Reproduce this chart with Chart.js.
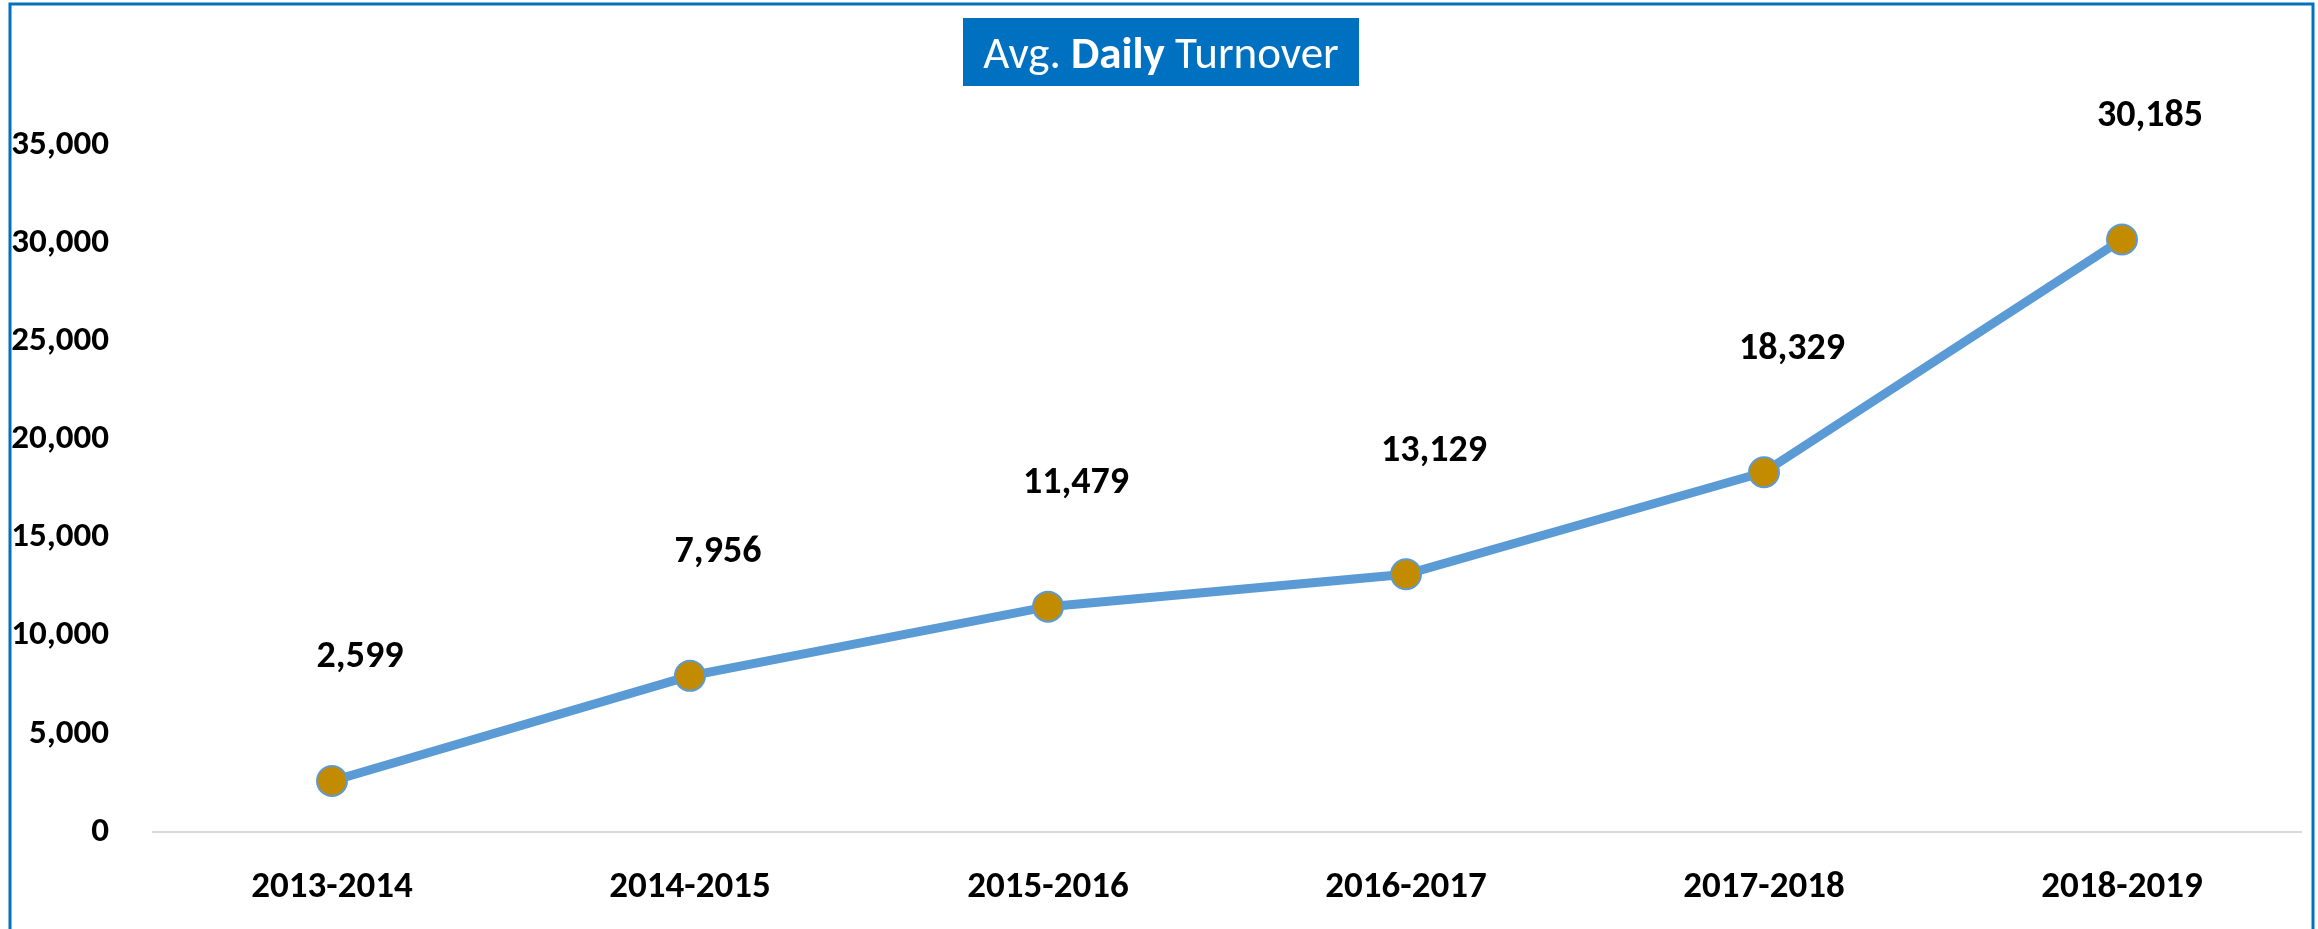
<!DOCTYPE html>
<html>
<head>
<meta charset="utf-8">
<script src="https://cdn.jsdelivr.net/npm/chart.js@4.4.0/dist/chart.umd.min.js"></script>
<style>
    html, body { margin: 0; padding: 0; background: #ffffff; }
    #wrap { width: 2318px; height: 929px; position: relative; }
</style>
</head>
<body>
<div id="wrap"><canvas id="turnoverChart"></canvas></div>
<script>
// Chart data
const years = ["2013-2014", "2014-2015", "2015-2016", "2016-2017", "2017-2018", "2018-2019"];
const avgDailyTurnover = [2599, 7956, 11479, 13129, 18329, 30185];
const yTicks = [0, 5000, 10000, 15000, 20000, 25000, 30000, 35000];

const FONT = "Carlito, Lato, 'Open Sans', sans-serif";

// Frame round the whole picture
const framePlugin = {
    id: "frame",
    beforeDraw(chart) {
        const c = chart.ctx;
        c.save();
        c.fillStyle = "#ffffff";
        c.fillRect(0, 0, chart.width, chart.height);
        c.strokeStyle = "#0070C0";
        c.lineWidth = 3;
        c.strokeRect(10, 4, 2303, 940);
        c.restore();
    },
};

// Title box with a bold word in the middle
const titleBoxPlugin = {
    id: "titleBox",
    afterDraw(chart) {
        const c = chart.ctx;
        const parts = [
            { text: "Avg. ", bold: false },
            { text: "Daily", bold: true },
            { text: " Turnover", bold: false },
        ];
        const size = 45;
        c.save();
        let total = 0;
        parts.forEach((p) => {
            c.font = (p.bold ? "bold " : "") + size + "px " + FONT;
            p.w = c.measureText(p.text).width;
            total += p.w;
        });
        const cx = 1161;
        const boxW = Math.max(396, total + 20);
        c.fillStyle = "#0070C0";
        c.fillRect(cx - boxW / 2, 18, boxW, 68);
        c.fillStyle = "#ffffff";
        c.textBaseline = "alphabetic";
        c.textAlign = "left";
        let x = cx - total / 2;
        parts.forEach((p) => {
            c.font = (p.bold ? "bold " : "") + size + "px " + FONT;
            c.fillText(p.text, x, 68);
            x += p.w;
        });
        c.restore();
    },
};

// Value labels above each point
const valueLabelPlugin = {
    id: "valueLabels",
    afterDatasetsDraw(chart) {
        const c = chart.ctx;
        const meta = chart.getDatasetMeta(0);
        c.save();
        c.font = "bold 38px " + FONT;
        c.fillStyle = "#000000";
        c.textAlign = "center";
        c.textBaseline = "middle";
        meta.data.forEach((pt, i) => {
            const v = chart.data.datasets[0].data[i];
            c.fillText(v.toLocaleString("en-US"), pt.x + 28, pt.y - 123);
        });
        c.restore();
    },
};

const ctx = document.getElementById("turnoverChart");

new Chart(ctx, {
    type: "line",
    data: {
        labels: years,
        datasets: [
            {
                label: "Avg. Daily Turnover",
                data: avgDailyTurnover,
                borderColor: "#5B9BD5",
                borderWidth: 9,
                pointRadius: 15,
                pointHoverRadius: 15,
                pointBackgroundColor: "#C38C00",
                pointBorderColor: "#5B9BD5",
                pointBorderWidth: 2,
                tension: 0,
                fill: false,
            },
        ],
    },
    plugins: [framePlugin, titleBoxPlugin, valueLabelPlugin],
    options: {
        responsive: true,
        maintainAspectRatio: false,
        animation: false,
        layout: {
            padding: { top: 145, right: 10, left: 0, bottom: 0 },
        },
        scales: {
            x: {
                offset: true,
                afterFit(scale) {
                    scale.height = 97;
                },
                grid: { display: false },
                border: { display: true, color: "#d9d9d9", width: 2 },
                ticks: {
                    color: "#000000",
                    padding: 26,
                    font: { family: FONT, size: 37, weight: "bold" },
                },
            },
            y: {
                min: 0,
                max: 35000,
                afterFit(scale) {
                    scale.width = 153;
                },
                afterBuildTicks(scale) {
                    scale.ticks = yTicks.map((v) => ({ value: v }));
                },
                grid: { display: false },
                border: { display: false },
                ticks: {
                    color: "#000000",
                    padding: 36,
                    font: { family: FONT, size: 35, weight: "bold" },
                    callback: (v) => v.toLocaleString("en-US"),
                },
            },
        },
        plugins: {
            legend: { display: false },
            title: { display: false },
            tooltip: { enabled: false },
        },
    },
});
</script>
</body>
</html>
